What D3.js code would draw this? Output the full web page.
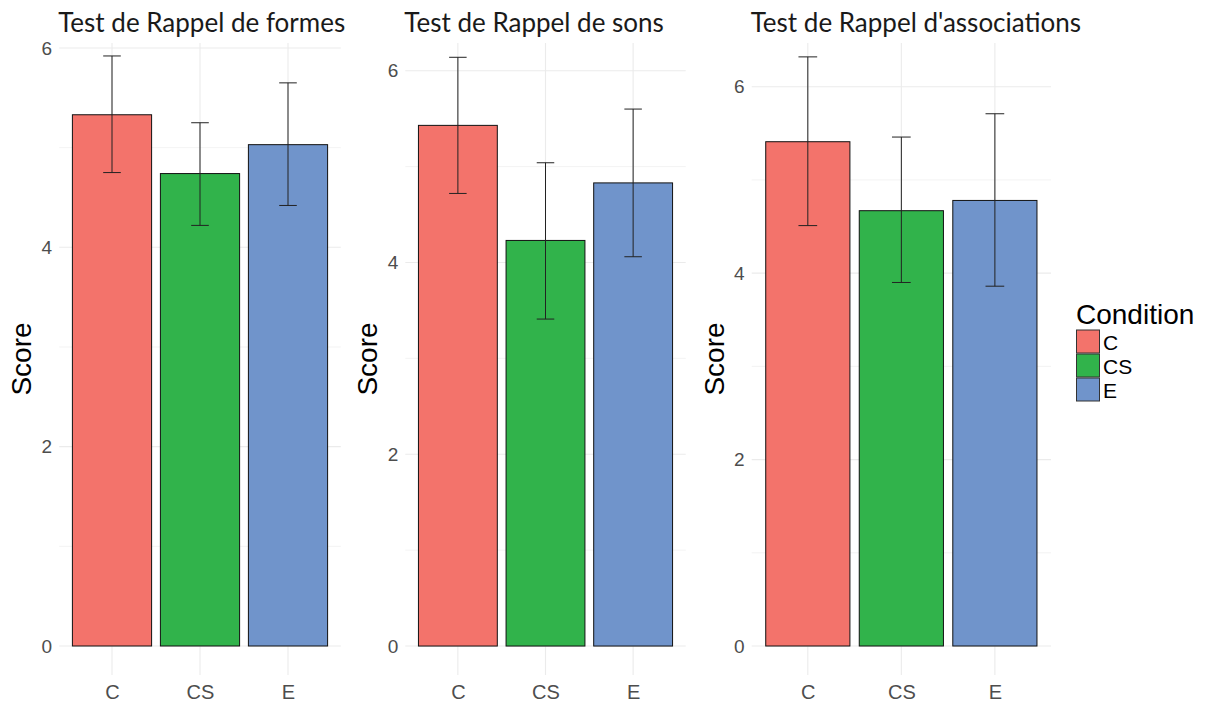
<!DOCTYPE html>
<html><head><meta charset="utf-8">
<script src="https://cdn.jsdelivr.net/npm/d3@7"></script>
<style>body{margin:0;background:#fff}svg{display:block}</style>
</head><body>
<svg id="chart" width="1208" height="704"></svg>
<script>
// ---- data ----
const categories = ["C", "CS", "E"];
const panelTitles = ["Test de Rappel de formes", "Test de Rappel de sons", "Test de Rappel d'associations"];
const formesMean = [5.33, 4.74, 5.03];
const formesLow  = [4.75, 4.22, 4.42];
const formesHigh = [5.92, 5.25, 5.65];
const sonsMean = [5.43, 4.23, 4.83];
const sonsLow  = [4.72, 3.41, 4.06];
const sonsHigh = [6.14, 5.04, 5.60];
const assocMean = [5.41, 4.67, 4.78];
const assocLow  = [4.51, 3.90, 3.86];
const assocHigh = [6.32, 5.46, 5.71];
const yTicks = [0, 2, 4, 6];
const yMinor = [1, 3, 5];
const legendTitle = "Condition";
const yLabel = "Score";
const colors = ["#f3736b", "#31b34b", "#7094cb"];

// ---- layout ----
const panels = [
  {x0: 59.2, x1: 340.8, dom: [-0.291, 6.05], mean: formesMean, lo: formesLow, hi: formesHigh},
  {x0: 405.3, x1: 685.7, dom: [-0.302, 6.289], mean: sonsMean, lo: sonsLow, hi: sonsHigh},
  {x0: 751.7, x1: 1051, dom: [-0.311, 6.469], mean: assocMean, lo: assocLow, hi: assocHigh}
];
const plotTop = 43, plotBottom = 675;
const svg = d3.select("#chart");
const color = d3.scaleOrdinal().domain(categories).range(colors);

panels.forEach((p, i) => {
  const x = d3.scalePoint().domain(categories).range([p.x0, p.x1]).padding(0.6);
  const y = d3.scaleLinear().domain(p.dom).range([plotBottom, plotTop]);
  const step = x.step();
  const bw = step * 0.9, ew = step * 0.2;
  const g = svg.append("g");

  // grid
  g.selectAll(".gmin").data(yMinor).join("line")
    .attr("x1", p.x0).attr("x2", p.x1).attr("y1", d => y(d)).attr("y2", d => y(d))
    .attr("stroke", "#ebebeb").attr("stroke-width", 0.6);
  g.selectAll(".gmaj").data(yTicks).join("line")
    .attr("x1", p.x0).attr("x2", p.x1).attr("y1", d => y(d)).attr("y2", d => y(d))
    .attr("stroke", "#ebebeb").attr("stroke-width", 1.1);
  g.selectAll(".gv").data(categories).join("line")
    .attr("x1", d => x(d)).attr("x2", d => x(d)).attr("y1", plotTop).attr("y2", plotBottom)
    .attr("stroke", "#ebebeb").attr("stroke-width", 1.1);

  // bars
  g.selectAll(".bar").data(categories).join("rect")
    .attr("x", d => x(d) - bw / 2).attr("width", bw)
    .attr("y", (d, j) => y(p.mean[j])).attr("height", (d, j) => y(0) - y(p.mean[j]))
    .attr("fill", d => color(d)).attr("stroke", "#111").attr("stroke-width", 1);

  // error bars
  const eb = g.selectAll(".eb").data(categories).join("g").attr("stroke", "#222").attr("stroke-width", 1);
  eb.append("line").attr("x1", d => x(d)).attr("x2", d => x(d))
    .attr("y1", (d, j) => y(p.lo[j])).attr("y2", (d, j) => y(p.hi[j]));
  eb.append("line").attr("x1", d => x(d) - ew / 2).attr("x2", d => x(d) + ew / 2)
    .attr("y1", (d, j) => y(p.lo[j])).attr("y2", (d, j) => y(p.lo[j]));
  eb.append("line").attr("x1", d => x(d) - ew / 2).attr("x2", d => x(d) + ew / 2)
    .attr("y1", (d, j) => y(p.hi[j])).attr("y2", (d, j) => y(p.hi[j]));

  // axes
  const ya = g.append("g").attr("transform", `translate(${p.x0},0)`)
    .call(d3.axisLeft(y).tickValues(yTicks).tickFormat(d3.format("d")).tickSize(0).tickPadding(7));
  ya.select(".domain").remove();
  ya.selectAll("text").attr("font-family", "Liberation Sans, Arial, sans-serif")
    .attr("font-size", 19).attr("fill", "#4d4d4d");
  const xa = g.append("g").attr("transform", `translate(0,${plotBottom})`)
    .call(d3.axisBottom(x).tickSize(0).tickPadding(10));
  xa.select(".domain").remove();
  xa.selectAll("text").attr("font-family", "Liberation Sans, Arial, sans-serif")
    .attr("font-size", 20).attr("fill", "#4d4d4d");

  // y label
  g.append("text").attr("transform", `translate(${p.x0 - 28},${(plotTop + plotBottom) / 2}) rotate(-90)`)
    .attr("text-anchor", "middle").attr("font-family", "Liberation Sans, Arial, sans-serif")
    .attr("font-size", 28).attr("fill", "#000").text(yLabel);

  // title
  g.append("text").attr("x", p.x0 - 1).attr("y", 32)
    .attr("font-family", "Lato, sans-serif").attr("font-size", 26).attr("fill", "#1a1a1a")
    .text(panelTitles[i]);
});

// legend
const lg = svg.append("g").attr("transform", "translate(1076,324)");
lg.append("text").attr("x", 0).attr("y", 0)
  .attr("font-family", "Liberation Sans, Arial, sans-serif").attr("font-size", 28).attr("fill", "#000")
  .text(legendTitle);
const li = lg.selectAll(".li").data(categories).join("g")
  .attr("transform", (d, j) => `translate(0,${6 + j * 24})`);
li.append("rect").attr("x", 0.5).attr("y", 0).attr("width", 23).attr("height", 23)
  .attr("fill", d => color(d)).attr("stroke", "#333").attr("stroke-width", 1);
li.append("text").attr("x", 27).attr("y", 20)
  .attr("font-family", "Liberation Sans, Arial, sans-serif").attr("font-size", 21).attr("fill", "#000")
  .text(d => d);
</script>
</body></html>
